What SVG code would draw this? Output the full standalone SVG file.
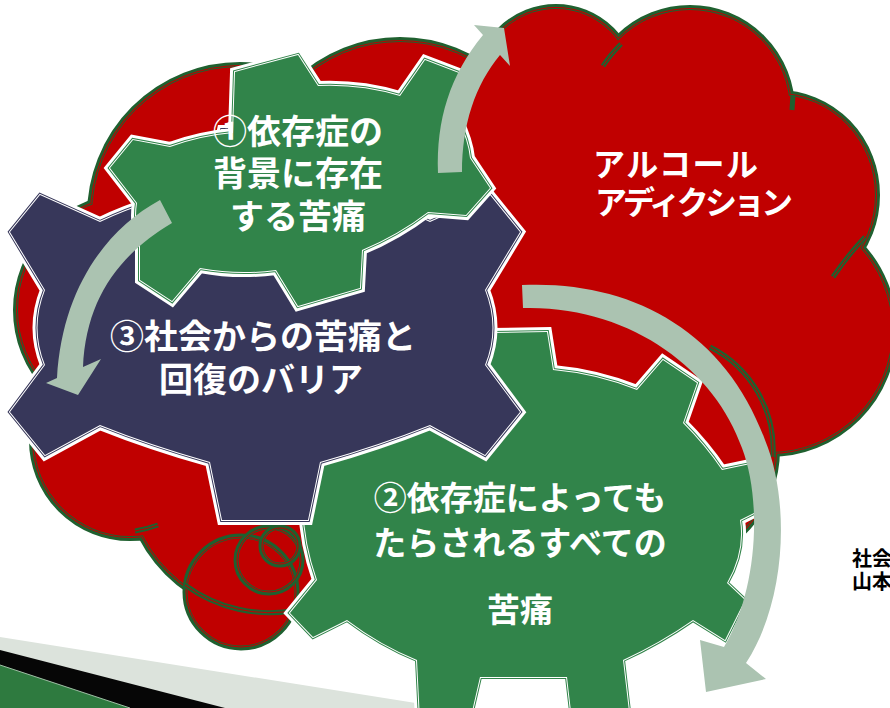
<svg xmlns="http://www.w3.org/2000/svg" width="890" height="708" viewBox="0 0 890 708">
<defs>
<style>
.co1{fill:#1f602f;stroke:#1f602f;stroke-width:10}
.co2{fill:#c00000;stroke:#c00000;stroke-width:4}
.co3{fill:#1f602f;stroke:#1f602f;stroke-width:2}
.co4{fill:#c00000;stroke:none}
.bf{fill:#c00000}
.bo1{fill:none;stroke:#1f602f;stroke-width:5}
.bo2{fill:none;stroke:#c00000;stroke-width:1}
.gw1{fill:none;stroke:#fff;stroke-width:10}
.gn2{fill:none;stroke:#37375a;stroke-width:4}
.gg2{fill:none;stroke:#31844a;stroke-width:4}
.gw3{fill:none;stroke:#fff;stroke-width:2}
.fn{fill:#37375a}
.fg{fill:#31844a}
.arrow{fill:#abc3b1}
.lbl{font-family:"Noto Sans CJK JP","Noto Sans",sans-serif;font-weight:700;fill:#fff;text-anchor:middle}
.cl{font-family:"Noto Sans CJK JP","Noto Sans",sans-serif;font-weight:700;fill:#fff;font-size:32px}
.side{font-family:"Noto Sans CJK JP","Noto Sans",sans-serif;font-weight:700;fill:#000;font-size:20px}
</style>
<g id="cloudShapes">
<circle cx="240" cy="215" r="148"/>
<circle cx="400" cy="190" r="148"/>
<circle cx="130" cy="310" r="112"/>
<circle cx="130" cy="440" r="96"/>
<circle cx="270" cy="470" r="143"/>
<circle cx="420" cy="380" r="100"/>
<circle cx="556" cy="86" r="77"/>
<circle cx="690" cy="110" r="100"/>
<ellipse cx="778" cy="195" rx="97" ry="100"/>
<circle cx="770" cy="330" r="122"/>
<circle cx="660" cy="450" r="115"/>
<circle cx="565" cy="230" r="110"/>
<circle cx="670" cy="280" r="120"/>
<circle cx="540" cy="320" r="70"/>
</g>
<path id="g3p" d="M100,222 L40,195 L10,232 L45,290 Q30,328 45,365 L10,412 L45,455 L100,425 Q150,445 210,462 L222,520 L308,520 L320,462 Q380,445 430,425 L485,455 L520,412 L485,365 Q500,328 485,290 L520,232 L490,195 L430,222 Q380,198 320,188 L308,130 L222,130 L210,188 Q150,198 100,222 Z"/>
<path id="g1p" d="M233,133 L235,72 L298,55 L318,86 Q360,84 400,96 L425,60 L472,78 L458,120 Q468,140 470,158 L490,188 L466,215 L428,212 Q398,235 362,250 L360,288 L298,306 L276,270 Q238,275 200,268 L172,301 L140,280 L140,242 Q134,222 137,203 L110,168 L133,140 L170,147 Q200,136 233,133 Z"/>
<path id="g2p" d="M420,340 L323,455 L307,462 Q296,520 317,580 L290,613 L313,637 L347,620 Q380,645 417,660 L420,720 L470,720 L480,677 L567,677 L572,720 L630,720 L623,660 Q660,643 693,620 L725,640 L745,600 L727,583 Q745,552 740,520 L770,505 L760,462 L722,470 Q705,445 683,423 L697,383 L663,360 L637,390 Q597,374 553,370 L547,332 L493,333 L480,360 Z"/>
</defs>

<g id="background-bands">
<polygon points="0,637 447,708 0,708" fill="#dce3dc"/>
<polygon points="0,650 225,708 0,708" fill="#060606"/>
<polygon points="0,665 130,708 0,708" fill="#2e7a3f"/>
<line x1="0" y1="665" x2="130" y2="708" stroke="#9fbfa5" stroke-width="1"/>
</g>

<g id="cloud">
<use href="#cloudShapes" class="co1"/>
<use href="#cloudShapes" class="co2"/>
<use href="#cloudShapes" class="co3"/>
<use href="#cloudShapes" class="co4"/>
<g fill="none">
<path d="M603,66 Q610,55 621,44" class="bo1"/>
<path d="M603,66 Q610,55 621,44" class="bo2"/>
<path d="M792,110 L793,95" class="bo1"/>
<path d="M833,277 Q848,255 865,237" class="bo1"/>
<path d="M833,277 Q848,255 865,237" class="bo2"/>
<path d="M710,347 A115,115 0 0 1 773,457" class="bo1"/>
<path d="M710,347 A115,115 0 0 1 773,457" class="bo2"/>
</g>
<text class="cl" x="593" y="176" textLength="165">アルコール</text>
<text class="cl" x="595" y="214" textLength="198">アディクション</text>
</g>

<g id="bubbles">
<circle cx="241" cy="592" r="56" class="bf"/>
<circle cx="269" cy="560" r="33" class="bf"/>
<circle cx="280" cy="546" r="19" class="bf"/>
<circle cx="241" cy="592" r="56" class="bo1"/>
<circle cx="241" cy="592" r="55" class="bo2"/>
<circle cx="269" cy="560" r="33" class="bo1"/>
<circle cx="269" cy="560" r="32" class="bo2"/>
<circle cx="280" cy="546" r="19" class="bo1"/>
<circle cx="280" cy="546" r="18" class="bo2"/>
<path d="M185,585 A143,143 0 0 0 297,610" class="bo1"/>
<path d="M185,585 A143,143 0 0 0 297,610" class="bo2"/>
<path d="M135,531 Q147,529 158,525" class="bo1"/>
<path d="M135,531 Q147,529 158,525" class="bo2"/>
</g>

<g id="gear2">
<use href="#g2p" class="gw1"/>
<use href="#g2p" class="gg2"/>
<use href="#g2p" class="gw3"/>
<use href="#g2p" class="fg"/>
<text class="lbl" font-size="33" x="520" y="510">②依存症によっても</text>
<text class="lbl" font-size="33" x="520" y="555">たらされるすべての</text>
<text class="lbl" font-size="33" x="520" y="622">苦痛</text>
</g>

<g id="gear3">
<use href="#g3p" class="gw1"/>
<use href="#g3p" class="gn2"/>
<use href="#g3p" class="gw3"/>
<use href="#g3p" class="fn"/>
<text class="lbl" font-size="34" x="263" y="349">③社会からの苦痛と</text>
<text class="lbl" font-size="34" x="261" y="392">回復のバリア</text>
</g>

<g id="gear1">
<use href="#g1p" class="gw1"/>
<use href="#g1p" class="gg2"/>
<use href="#g1p" class="gw3"/>
<use href="#g1p" class="fg"/>
<text class="lbl" font-size="34" x="298" y="144">①依存症の</text>
<text class="lbl" font-size="34" x="298" y="186">背景に存在</text>
<text class="lbl" font-size="34" x="298" y="229">する苦痛</text>
</g>

<g id="connectors">
<path class="arrow" d="M438,173 C436,120 450,75 483,35 L474,25 L504,28 L510,66 L500,55 C475,85 462,125 462,172 Z"/>
<path class="arrow" d="M160,200 C105,230 62,290 57,378 L46,383 L78,395 L101,359 L83,367 C86,300 118,255 172,223 Z"/>
<path class="arrow" d="M522,285 C630,280 725,330 765,440 C790,500 787,600 746,663 L766,679 L706,692 L700,640 L724,647 C758,590 762,500 742,448 C715,370 630,305 523,308 Z"/>
</g>

<g id="side-note">
<text class="side" x="852" y="566">社会</text>
<text class="side" x="852" y="589">山本</text>
</g>
</svg>
